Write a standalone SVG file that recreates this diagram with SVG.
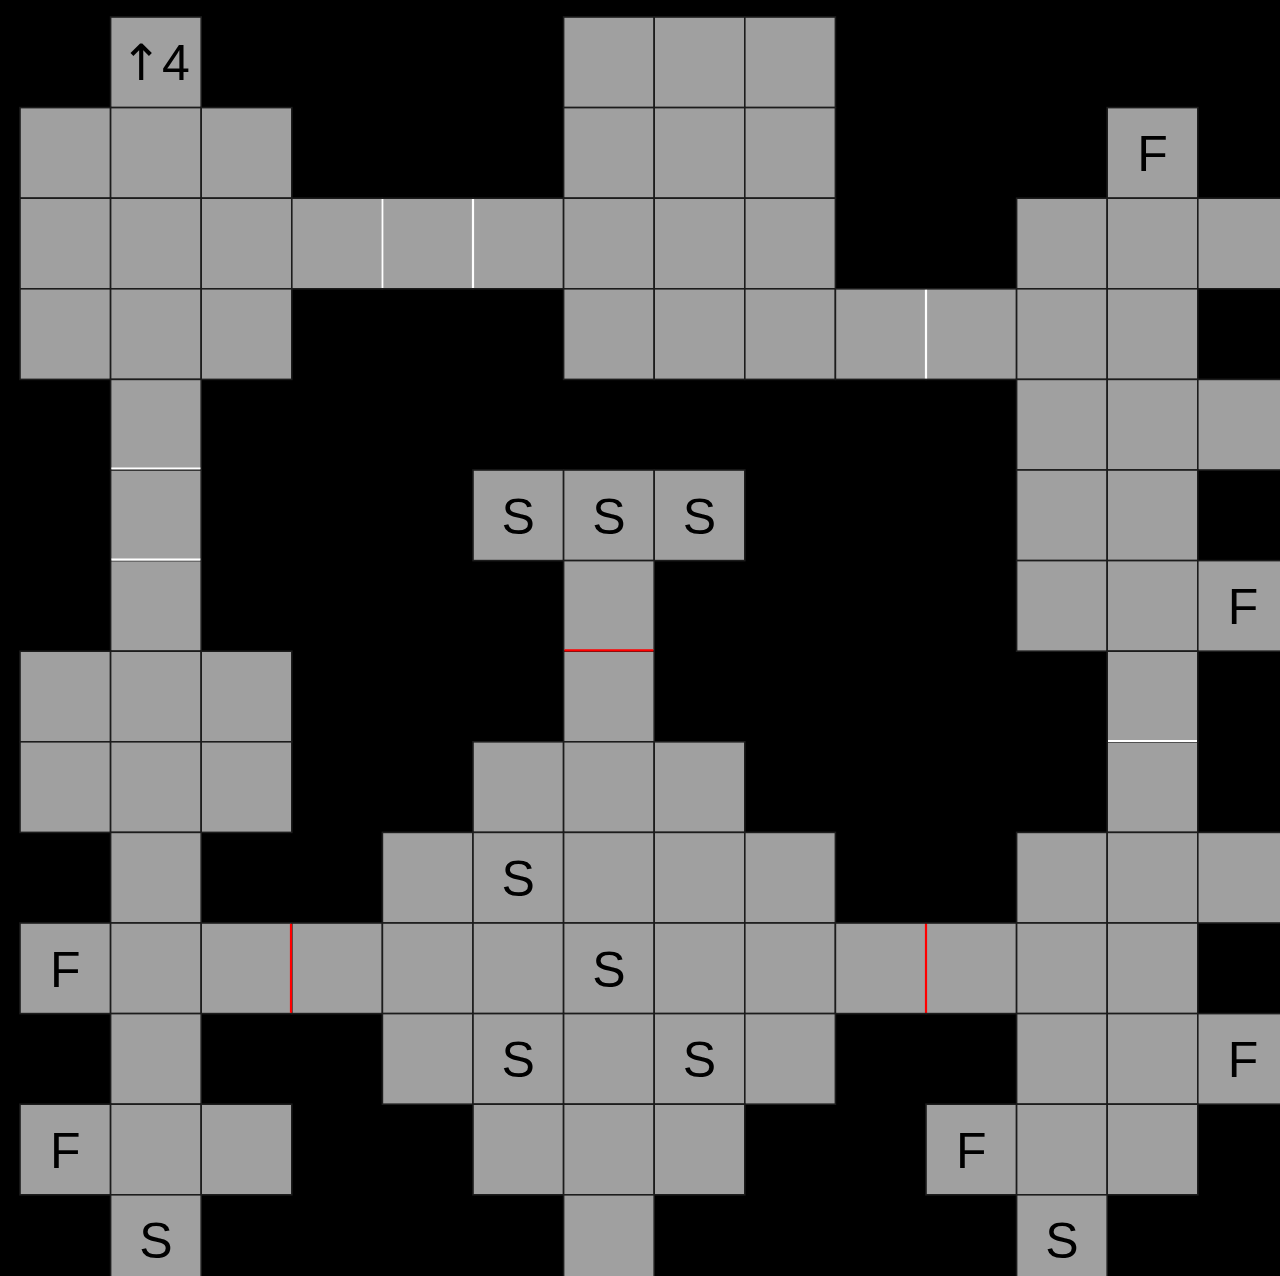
<svg xmlns="http://www.w3.org/2000/svg" xmlns:xlink="http://www.w3.org/1999/xlink" width="1280" height="1276" viewBox="0 0 1280 1276">
<style>
.t{font-family:"Liberation Sans","DejaVu Sans",Arial,sans-serif;font-size:50px;fill:#000;text-anchor:middle}
.a{font-family:"DejaVu Sans",sans-serif}
.w{stroke:#ffffff;stroke-width:2.2}
.r{stroke:#ff0000;stroke-width:2.2}
</style>
<defs>
<rect id="cell" width="90.6" height="90.6" fill="#a0a0a0" stroke="#1c1c1c" stroke-width="1.6"/>
</defs>
<rect width="1280" height="1276" fill="#000"/>
<g id="cells">
<g id="r0"><use xlink:href="#cell" x="110.6" y="17"/><use xlink:href="#cell" x="563.6" y="17"/><use xlink:href="#cell" x="654.2" y="17"/><use xlink:href="#cell" x="744.8" y="17"/></g>
<g id="r1"><use xlink:href="#cell" x="20" y="107.6"/><use xlink:href="#cell" x="110.6" y="107.6"/><use xlink:href="#cell" x="201.2" y="107.6"/><use xlink:href="#cell" x="563.6" y="107.6"/><use xlink:href="#cell" x="654.2" y="107.6"/><use xlink:href="#cell" x="744.8" y="107.6"/><use xlink:href="#cell" x="1107.2" y="107.6"/></g>
<g id="r2"><use xlink:href="#cell" x="20" y="198.2"/><use xlink:href="#cell" x="110.6" y="198.2"/><use xlink:href="#cell" x="201.2" y="198.2"/><use xlink:href="#cell" x="291.8" y="198.2"/><use xlink:href="#cell" x="382.4" y="198.2"/><use xlink:href="#cell" x="473" y="198.2"/><use xlink:href="#cell" x="563.6" y="198.2"/><use xlink:href="#cell" x="654.2" y="198.2"/><use xlink:href="#cell" x="744.8" y="198.2"/><use xlink:href="#cell" x="1016.6" y="198.2"/><use xlink:href="#cell" x="1107.2" y="198.2"/><use xlink:href="#cell" x="1197.8" y="198.2"/></g>
<g id="r3"><use xlink:href="#cell" x="20" y="288.8"/><use xlink:href="#cell" x="110.6" y="288.8"/><use xlink:href="#cell" x="201.2" y="288.8"/><use xlink:href="#cell" x="563.6" y="288.8"/><use xlink:href="#cell" x="654.2" y="288.8"/><use xlink:href="#cell" x="744.8" y="288.8"/><use xlink:href="#cell" x="835.4" y="288.8"/><use xlink:href="#cell" x="926" y="288.8"/><use xlink:href="#cell" x="1016.6" y="288.8"/><use xlink:href="#cell" x="1107.2" y="288.8"/></g>
<g id="r4"><use xlink:href="#cell" x="110.6" y="379.4"/><use xlink:href="#cell" x="1016.6" y="379.4"/><use xlink:href="#cell" x="1107.2" y="379.4"/><use xlink:href="#cell" x="1197.8" y="379.4"/></g>
<g id="r5"><use xlink:href="#cell" x="110.6" y="470"/><use xlink:href="#cell" x="473" y="470"/><use xlink:href="#cell" x="563.6" y="470"/><use xlink:href="#cell" x="654.2" y="470"/><use xlink:href="#cell" x="1016.6" y="470"/><use xlink:href="#cell" x="1107.2" y="470"/></g>
<g id="r6"><use xlink:href="#cell" x="110.6" y="560.6"/><use xlink:href="#cell" x="563.6" y="560.6"/><use xlink:href="#cell" x="1016.6" y="560.6"/><use xlink:href="#cell" x="1107.2" y="560.6"/><use xlink:href="#cell" x="1197.8" y="560.6"/></g>
<g id="r7"><use xlink:href="#cell" x="20" y="651.2"/><use xlink:href="#cell" x="110.6" y="651.2"/><use xlink:href="#cell" x="201.2" y="651.2"/><use xlink:href="#cell" x="563.6" y="651.2"/><use xlink:href="#cell" x="1107.2" y="651.2"/></g>
<g id="r8"><use xlink:href="#cell" x="20" y="741.8"/><use xlink:href="#cell" x="110.6" y="741.8"/><use xlink:href="#cell" x="201.2" y="741.8"/><use xlink:href="#cell" x="473" y="741.8"/><use xlink:href="#cell" x="563.6" y="741.8"/><use xlink:href="#cell" x="654.2" y="741.8"/><use xlink:href="#cell" x="1107.2" y="741.8"/></g>
<g id="r9"><use xlink:href="#cell" x="110.6" y="832.4"/><use xlink:href="#cell" x="382.4" y="832.4"/><use xlink:href="#cell" x="473" y="832.4"/><use xlink:href="#cell" x="563.6" y="832.4"/><use xlink:href="#cell" x="654.2" y="832.4"/><use xlink:href="#cell" x="744.8" y="832.4"/><use xlink:href="#cell" x="1016.6" y="832.4"/><use xlink:href="#cell" x="1107.2" y="832.4"/><use xlink:href="#cell" x="1197.8" y="832.4"/></g>
<g id="r10"><use xlink:href="#cell" x="20" y="923"/><use xlink:href="#cell" x="110.6" y="923"/><use xlink:href="#cell" x="201.2" y="923"/><use xlink:href="#cell" x="291.8" y="923"/><use xlink:href="#cell" x="382.4" y="923"/><use xlink:href="#cell" x="473" y="923"/><use xlink:href="#cell" x="563.6" y="923"/><use xlink:href="#cell" x="654.2" y="923"/><use xlink:href="#cell" x="744.8" y="923"/><use xlink:href="#cell" x="835.4" y="923"/><use xlink:href="#cell" x="926" y="923"/><use xlink:href="#cell" x="1016.6" y="923"/><use xlink:href="#cell" x="1107.2" y="923"/></g>
<g id="r11"><use xlink:href="#cell" x="110.6" y="1013.6"/><use xlink:href="#cell" x="382.4" y="1013.6"/><use xlink:href="#cell" x="473" y="1013.6"/><use xlink:href="#cell" x="563.6" y="1013.6"/><use xlink:href="#cell" x="654.2" y="1013.6"/><use xlink:href="#cell" x="744.8" y="1013.6"/><use xlink:href="#cell" x="1016.6" y="1013.6"/><use xlink:href="#cell" x="1107.2" y="1013.6"/><use xlink:href="#cell" x="1197.8" y="1013.6"/></g>
<g id="r12"><use xlink:href="#cell" x="20" y="1104.2"/><use xlink:href="#cell" x="110.6" y="1104.2"/><use xlink:href="#cell" x="201.2" y="1104.2"/><use xlink:href="#cell" x="473" y="1104.2"/><use xlink:href="#cell" x="563.6" y="1104.2"/><use xlink:href="#cell" x="654.2" y="1104.2"/><use xlink:href="#cell" x="926" y="1104.2"/><use xlink:href="#cell" x="1016.6" y="1104.2"/><use xlink:href="#cell" x="1107.2" y="1104.2"/></g>
<g id="r13"><use xlink:href="#cell" x="110.6" y="1194.8"/><use xlink:href="#cell" x="563.6" y="1194.8"/><use xlink:href="#cell" x="1016.6" y="1194.8"/></g>
</g>
<g id="walls">
<line class="w" x1="382.4" y1="199" x2="382.4" y2="288"/>
<line class="w" x1="473" y1="199" x2="473" y2="288"/>
<line class="w" x1="926" y1="289.6" x2="926" y2="378.6"/>
<line class="w" x1="111.4" y1="468.5" x2="200.4" y2="468.5"/>
<line class="w" x1="111.4" y1="559.6" x2="200.4" y2="559.6"/>
<line class="w" x1="1108" y1="741" x2="1197" y2="741"/>
<line class="r" x1="564.4" y1="650.4" x2="653.4" y2="650.4"/>
<line class="r" x1="291" y1="923.8" x2="291" y2="1012.8"/>
<line class="r" x1="926" y1="923.8" x2="926" y2="1012.8"/>
</g>
<g id="labels">
<text class="t" x="155" y="79.5"><tspan class="a">↑</tspan>4</text>
<text class="t" x="1152.5" y="171">F</text>
<text class="t" x="518.3" y="533.5">S</text>
<text class="t" x="608.9" y="533.5">S</text>
<text class="t" x="699.5" y="533.5">S</text>
<text class="t" x="1243.1" y="624">F</text>
<text class="t" x="518.3" y="896">S</text>
<text class="t" x="65.3" y="986.5">F</text>
<text class="t" x="608.9" y="986.5">S</text>
<text class="t" x="518.3" y="1077">S</text>
<text class="t" x="699.5" y="1077">S</text>
<text class="t" x="1243.1" y="1077">F</text>
<text class="t" x="65.3" y="1167.5">F</text>
<text class="t" x="971.3" y="1167.5">F</text>
<text class="t" x="155.9" y="1258">S</text>
<text class="t" x="1061.9" y="1258">S</text>
</g>
</svg>
